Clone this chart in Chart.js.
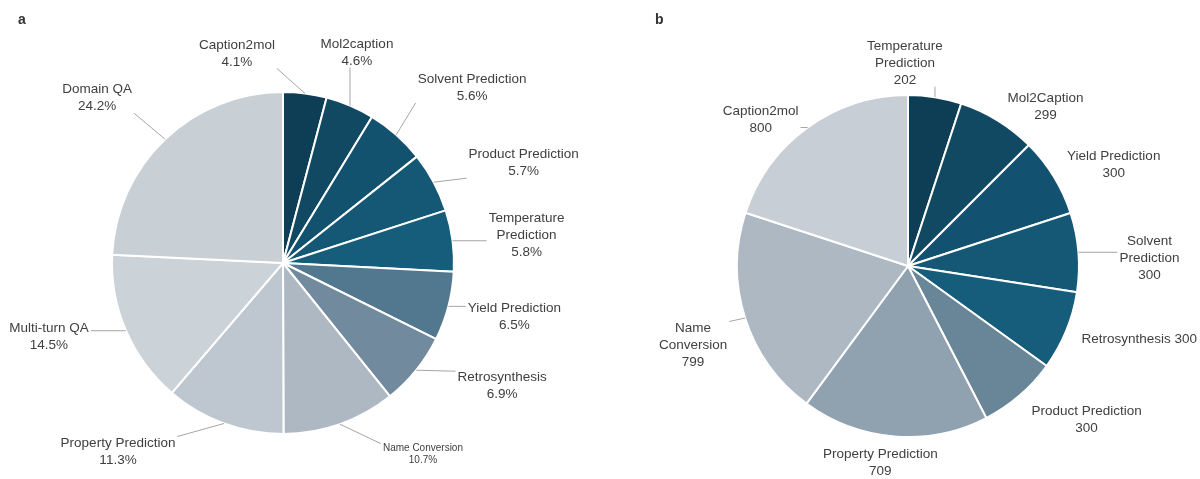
<!DOCTYPE html>
<html>
<head>
<meta charset="utf-8">
<script src="https://cdn.jsdelivr.net/npm/chart.js@4"></script>
<style>
  body { margin: 0; background: #fff; width: 1200px; height: 479px; position: relative; overflow: hidden; font-family: "Liberation Sans", Arial, sans-serif; }
  .panel { position: absolute; top: 0; width: 600px; height: 479px; }
  .tag { position: absolute; top: 11px; font-weight: bold; font-size: 14px; color: #333; }
</style>
</head>
<body>
<div class="panel" style="left:0"><canvas id="pieA" width="600" height="479"></canvas></div>
<div class="panel" style="left:600px"><canvas id="pieB" width="600" height="479"></canvas></div>
<div class="tag" style="left:18px">a</div>
<div class="tag" style="left:655px">b</div>
<script>
// panel a: share of tasks (%)
const taskNamesA = ['Caption2mol', 'Mol2caption', 'Solvent Prediction', 'Product Prediction', 'Temperature\nPrediction',
    'Yield Prediction', 'Retrosynthesis', 'Name Conversion', 'Property Prediction', 'Multi-turn QA', 'Domain QA'];
const sharesA = [4.1, 4.6, 5.6, 5.7, 5.8, 6.5, 6.9, 10.7, 11.3, 14.5, 24.2];

// panel b: sample counts
const taskNamesB = ['Temperature\nPrediction', 'Mol2Caption', 'Yield Prediction', 'Solvent\nPrediction', 'Retrosynthesis',
    'Product Prediction', 'Property Prediction', 'Name\nConversion', 'Caption2mol'];
const countsB = [202, 299, 300, 300, 300, 300, 709, 799, 800];

const colorsA = ['#0e3e56', '#114862', '#13526e', '#155875', '#165d7c', '#52788f', '#728a9d', '#aeb8c2', '#bec7cf', '#cbd3d9', '#c8cfd5'];
const colorsB = ['#0e3e56', '#114862', '#135170', '#155875', '#165d7c', '#698598', '#90a2b0', '#adb8c2', '#c8ced5'];

// label placement: offset of the text centre from the slice's outer mid point
const offsetsA = [[-68, -40], [7, -53], [76, -47], [90, -19], [74, -5], [66, 10], [86, 16], [83, 30], [-106, 28], [-77, 6], [-68, -41]];
const offsetsB = [[-30, -34], [48, -14], [60, -12], [71, 6], [73, 8], [67, 24], [-14, 26], [-52, 27], [-47, -8]];
const leadersB = [true, false, false, true, false, false, false, true, true];

// draws the outside labels with leader lines
const outLabels = {
    id: 'outLabels',
    afterDraw(chart, args, opts) {
        const ctx = chart.ctx;
        const meta = chart.getDatasetMeta(0);
        ctx.save();
        meta.data.forEach((arc, i) => {
            const p = arc.getProps(['x', 'y', 'startAngle', 'endAngle', 'outerRadius'], true);
            const mid = (p.startAngle + p.endAngle) / 2;
            const ex = p.x + Math.cos(mid) * p.outerRadius;
            const ey = p.y + Math.sin(mid) * p.outerRadius;
            const cx = ex + opts.offsets[i][0];
            const cy = ey + opts.offsets[i][1];
            const lines = opts.text(i);
            const fs = (opts.sizes && opts.sizes[i]) || 13.5;
            ctx.font = fs + 'px "Liberation Sans", Arial, sans-serif';
            const lh = fs * 1.26;
            const w = Math.max(...lines.map(l => ctx.measureText(l).width));
            const h = lines.length * lh;
            const bx0 = cx - w / 2 - 2, bx1 = cx + w / 2 + 2;
            const by0 = cy - h / 2 + 2, by1 = cy + h / 2 - 2;
            const px = Math.min(Math.max(ex, bx0), bx1);
            const py = Math.min(Math.max(ey, by0), by1);
            const wantLine = opts.leaders ? opts.leaders[i] : true;
            if (wantLine && Math.hypot(px - ex, py - ey) > 6) {
                ctx.strokeStyle = '#a6a6a6';
                ctx.lineWidth = 1;
                ctx.beginPath();
                ctx.moveTo(px, py);
                ctx.lineTo(ex, ey);
                ctx.stroke();
            }
            ctx.fillStyle = '#404040';
            ctx.textAlign = 'center';
            ctx.textBaseline = 'middle';
            lines.forEach((l, k) => ctx.fillText(l, cx, cy - h / 2 + lh * (k + 0.5)));
        });
        ctx.restore();
    }
};

const makePie = (id, names, values, colors, padding, labelOpts) => {
    return new Chart(document.getElementById(id), {
        type: 'pie',
        data: {
            labels: names,
            datasets: [{
                data: values,
                backgroundColor: colors,
                borderColor: '#ffffff',
                borderWidth: 2
            }]
        },
        options: {
            responsive: false,
            animation: false,
            layout: { padding: padding },
            plugins: {
                legend: { display: false },
                tooltip: { enabled: false },
                outLabels: labelOpts
            }
        },
        plugins: [outLabels]
    });
};

makePie('pieA', taskNamesA, sharesA, colorsA,
    { left: 111, right: 145, top: 91, bottom: 44 },
    {
        offsets: offsetsA,
        sizes: [0, 0, 0, 0, 0, 0, 0, 10, 0, 0, 0],
        text: i => [...taskNamesA[i].split('\n'), sharesA[i].toFixed(1) + '%']
    });

makePie('pieB', taskNamesB, countsB, colorsB,
    { left: 136, right: 120, top: 94, bottom: 41 },
    {
        offsets: offsetsB,
        leaders: leadersB,
        text: i => taskNamesB[i] === 'Retrosynthesis'
            ? [taskNamesB[i] + ' ' + countsB[i]]
            : [...taskNamesB[i].split('\n'), String(countsB[i])]
    });
</script>
</body>
</html>
